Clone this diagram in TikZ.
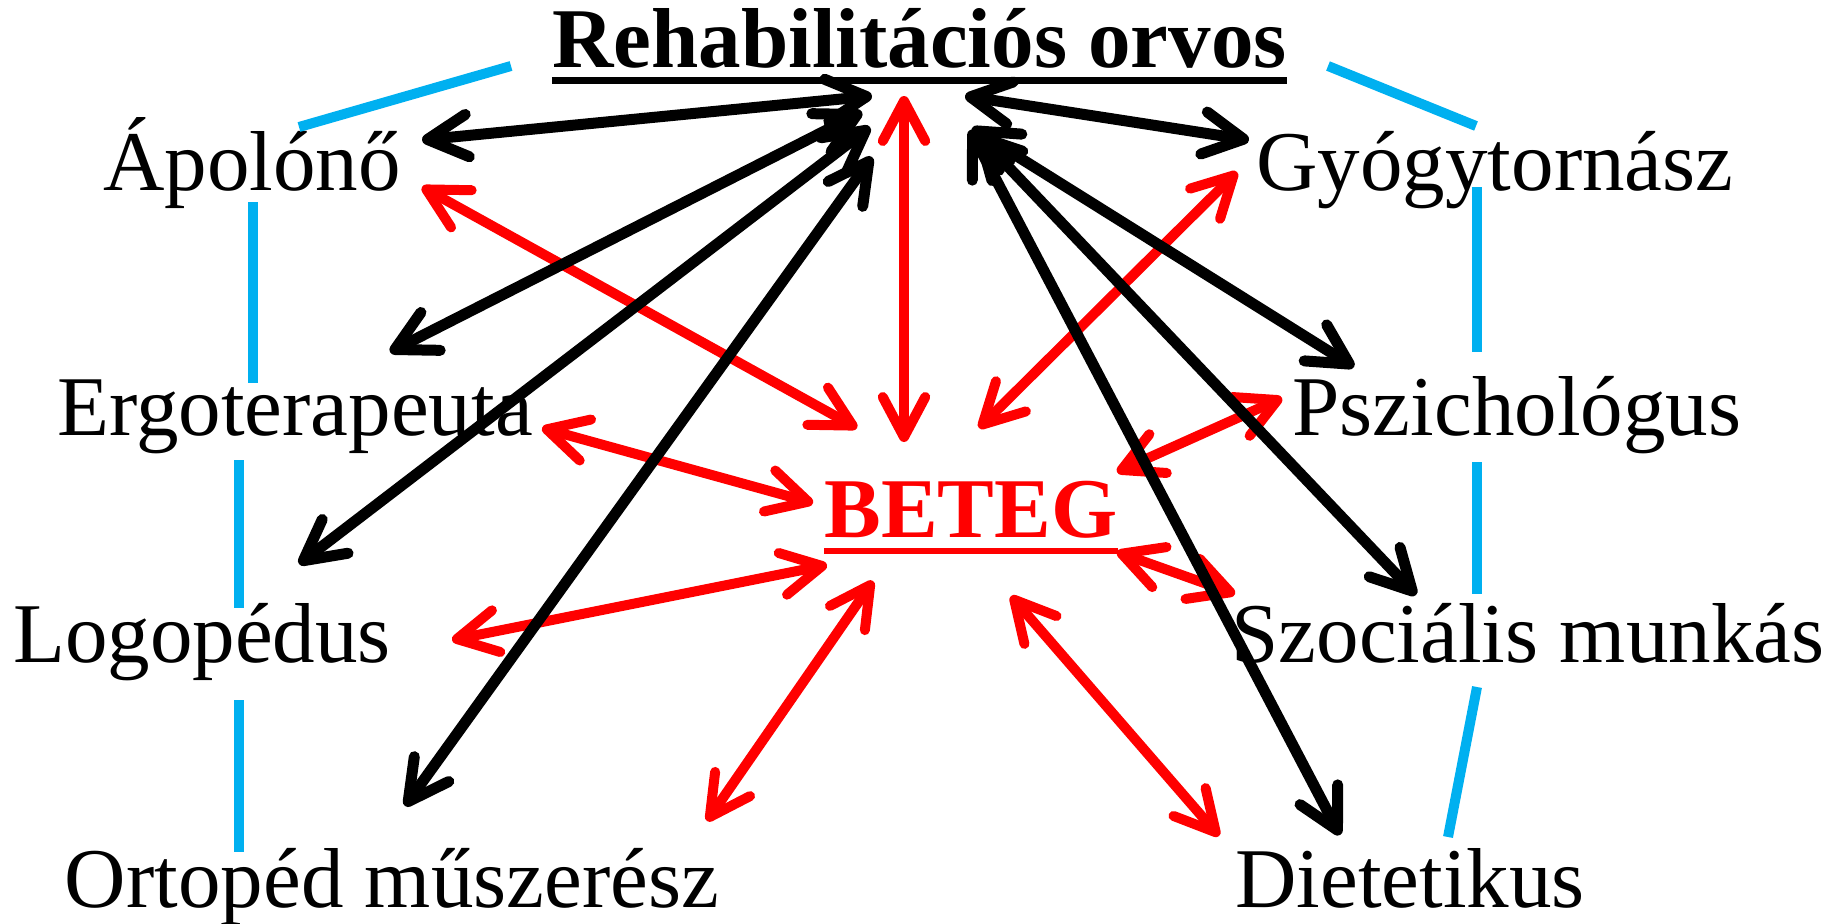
\documentclass[tikz,border=0pt]{standalone}
\usepackage{fontspec}
\setmainfont{Liberation Serif}
\usetikzlibrary{arrows.meta, calc}
\definecolor{teamblue}{RGB}{0,176,240}
\tikzstyle{job} = [inner sep=0pt, anchor=base, font=\fontsize{48.4}{58}\selectfont]
\tikzstyle{head} = [job, font=\fontsize{48.4}{58}\selectfont\bfseries]
\tikzstyle{arrow} = [line width=0.22cm, line cap=round, {Straight Barb[length=0.8cm,width=0.85cm,round]}-{Straight Barb[length=0.8cm,width=0.85cm,round]}]
\tikzstyle{redarrow} = [arrow, red, line width=0.2cm]
\tikzstyle{teamline} = [teamblue, line width=0.2cm]
\begin{document}
\begin{tikzpicture}[x=0.02cm, y=-0.02cm]
		\useasboundingbox (0,0) rectangle (1841,923);
		\node (Orvos) [head] at (919.5,67) {Rehabilitációs orvos};
		\node (Beteg) [head, text=red] at (971,537) {BETEG};
		\node (Apolo) [job] at (252,190) {Ápolónő};
		\node (Gyogy) [job] at (1495,190) {Gyógytornász};
		\node (Ergo) [job] at (295,435) {Ergoterapeuta};
		\node (Pszich) [job] at (1517,435) {Pszichológus};
		\node (Logo) [job] at (202,662) {Logopédus};
		\node (Szoc) [job] at (1528,662) {Szociális munkás};
		\node (Ortop) [job] at (392,907) {Ortopéd műszerész};
		\node (Diet) [job] at (1410,907) {Dietetikus};

		% underlines
		\draw [line width=0.14cm] ($(Orvos.base west)+(0,13)$) -- ($(Orvos.base east)+(0,13)$);
		\draw [red, line width=0.12cm] ($(Beteg.base west)+(0,14)$) -- ($(Beteg.base east)+(0,14)$);

		% team ring
		\draw [teamline] ($(Apolo.base)+(47,-63)$) -- ($(Orvos.base)+(-408.5,-1)$);
		\draw [teamline] ($(Apolo.base)+(1,12)$) -- ($(Ergo.base)+(-42,-52)$);
		\draw [teamline] ($(Ergo.base)+(-56,25)$) -- ($(Logo.base)+(37,-54)$);
		\draw [teamline] ($(Logo.base)+(37,38)$) -- ($(Ortop.base)+(-153,-55)$);
		\draw [teamline] ($(Orvos.base)+(408.5,-1)$) -- ($(Gyogy.base)+(-19,-64)$);
		\draw [teamline] ($(Gyogy.base)+(-18,-3)$) -- ($(Pszich.base)+(-40,-83)$);
		\draw [teamline] ($(Pszich.base)+(-40,27)$) -- ($(Szoc.base)+(-51,-68)$);
		\draw [teamline] ($(Szoc.base)+(-51,25)$) -- ($(Diet.base)+(38,-70)$);

		% patient links
		\draw [redarrow] ($(Orvos.base)+(-15.5,29)$) -- ($(Beteg.base)+(-67,-95)$);
		\draw [redarrow] ($(Apolo.base)+(170,-3)$) -- ($(Beteg.base)+(-114,-109)$);
		\draw [redarrow] ($(Gyogy.base)+(-258,-18)$) -- ($(Beteg.base)+(8,-109)$);
		\draw [redarrow] ($(Ergo.base)+(247,-7)$) -- ($(Beteg.base)+(-158,-34)$);
		\draw [redarrow] ($(Pszich.base)+(-235,-37)$) -- ($(Beteg.base)+(146,-65)$);
		\draw [redarrow] ($(Logo.base)+(250,-22)$) -- ($(Beteg.base)+(-144,28)$);
		\draw [redarrow] ($(Szoc.base)+(-293,-68)$) -- ($(Beteg.base)+(146,15)$);
		\draw [redarrow] ($(Ortop.base)+(315,-86)$) -- ($(Beteg.base)+(-98,44)$);
		\draw [redarrow] ($(Diet.base)+(-191,-71)$) -- ($(Beteg.base)+(40,59)$);

		% doctor links
		\draw [arrow] ($(Orvos.base)+(-47.5,29)$) -- ($(Apolo.base)+(170,-50)$);
		\draw [arrow] ($(Orvos.base)+(-57.5,45)$) -- ($(Ergo.base)+(95,-83)$);
		\draw [arrow] ($(Orvos.base)+(-49.5,60)$) -- ($(Logo.base)+(97,-98)$);
		\draw [arrow] ($(Orvos.base)+(-47.5,90)$) -- ($(Ortop.base)+(13,-101)$);
		\draw [arrow] ($(Orvos.base)+(45.5,29)$) -- ($(Gyogy.base)+(-246,-50)$);
		\draw [arrow] ($(Orvos.base)+(52.5,61)$) -- ($(Pszich.base)+(-163,-68)$);
		\draw [arrow] ($(Orvos.base)+(56.5,66)$) -- ($(Szoc.base)+(-112,-67)$);
		\draw [arrow] ($(Orvos.base)+(50.5,63)$) -- ($(Diet.base)+(-70,-72)$);
\end{tikzpicture}
\end{document}
